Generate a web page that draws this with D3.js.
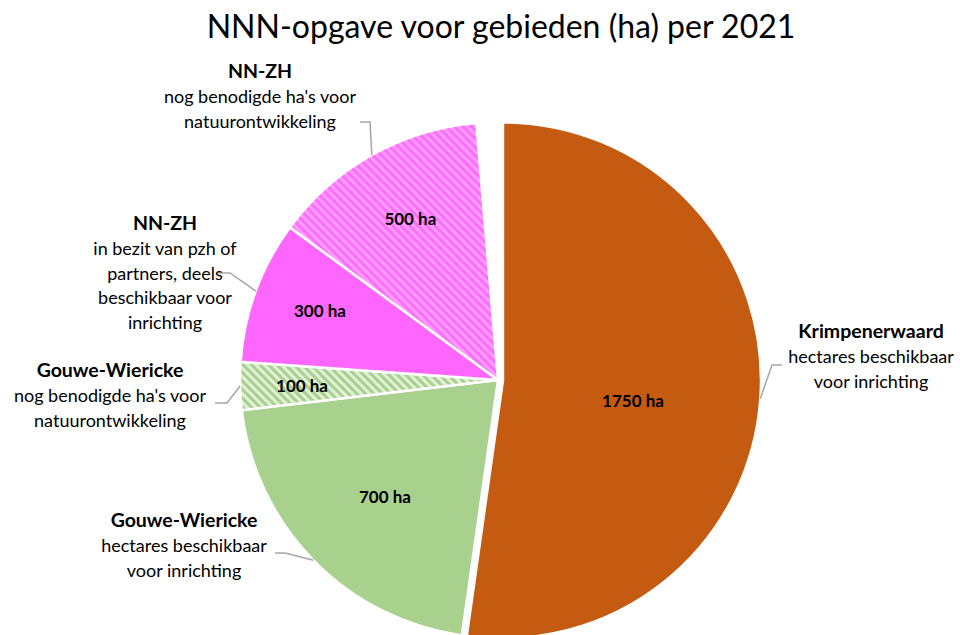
<!DOCTYPE html>
<html>
<head>
<meta charset="utf-8">
<script src="https://cdn.jsdelivr.net/npm/d3@7"></script>
<style>
  body { margin: 0; background: #fff; }
  svg { font-family: Lato, "Open Sans", sans-serif; }
  .title { font-size: 32px; fill: #000; }
  .cat { font-size: 19.5px; font-weight: bold; fill: #000; }
  .desc { font-size: 18px; fill: #000; }
  .val { font-size: 17px; font-weight: bold; fill: #000; }
  .leader { fill: none; stroke: #a6a6a6; stroke-width: 1.5; }
</style>
</head>
<body>
<svg width="960" height="635"></svg>
<script>
const w = 960, h = 635;
const cx = 498, cy = 380, radius = 258;

// slice data (last one is the empty gap at the top of the pie)
const categories = ["Krimpenerwaard", "Gouwe-Wiericke", "Gouwe-Wiericke", "NN-ZH", "NN-ZH", ""];
const descriptions = [
  ["hectares beschikbaar", "voor inrichting"],
  ["hectares beschikbaar", "voor inrichting"],
  ["nog benodigde ha's voor", "natuurontwikkeling"],
  ["in bezit van pzh of", "partners, deels", "beschikbaar voor", "inrichting"],
  ["nog benodigde ha's voor", "natuurontwikkeling"],
  []
];
const values = [1750, 700, 100, 300, 455, 45];
const valueLabels = ["1750 ha", "700 ha", "100 ha", "300 ha", "500 ha", ""];

// layout: label blocks, leader elbows, data label placement (radius fraction, angle shift in deg)
const fills = ["#c55a11", "#a9d18e", "url(#hatchGreen)", "#ff66ff", "url(#hatchPink)", "none"];
const labelPlace = [[0.51, 4.7], [0.63, -1.6], [0.76, -0.5], [0.74, 1], [0.71, 0.7]];
const labelBlocks = [[871, 338], [184, 527], [110, 377], [165, 230], [260, 78]];
const elbows = [[[772, 365], [782, 365]], [[285, 553], [275, 553]], [[227, 403], [215, 403]],
                [[230, 273], [218, 273]], [[370, 122], [360, 122]]];
const explode = [5, 0, 0, 0, 0, 0];

const svg = d3.select("svg");

// hatch patterns (wide downward diagonal)
const defs = svg.append("defs");
function hatch(id, bg, fg) {
  const p = defs.append("pattern").attr("id", id)
      .attr("patternUnits", "userSpaceOnUse")
      .attr("width", 6).attr("height", 6)
      .attr("patternTransform", "rotate(45)");
  p.append("rect").attr("width", 6).attr("height", 6).attr("fill", bg);
  p.append("rect").attr("width", 6).attr("height", 3).attr("fill", fg);
}
hatch("hatchGreen", "#e2f0d9", "#a9d18e");
hatch("hatchPink", "#ff9cff", "#ff6dff");

svg.append("text").attr("class", "title")
    .attr("x", 501).attr("y", 38)
    .attr("text-anchor", "middle")
    .text("NNN-opgave voor gebieden (ha) per 2021");

const pie = d3.pie().sort(null).value(d => d);
const arcs = pie(values);
const arc = d3.arc().innerRadius(0).outerRadius(radius);
const rim = d3.arc().innerRadius(radius).outerRadius(radius);

const g = svg.append("g").attr("transform", `translate(${[cx, cy]})`);

g.selectAll("path.slice")
  .data(arcs)
  .join("path").attr("class", "slice")
  .attr("d", arc)
  .attr("transform", (d, i) => {
    const a = (d.startAngle + d.endAngle) / 2;
    return `translate(${[explode[i] * Math.sin(a), -explode[i] * Math.cos(a)]})`;
  })
  .attr("fill", (d, i) => fills[i])
  .attr("stroke", (d, i) => fills[i] === "none" ? "none" : "#fff")
  .attr("stroke-width", 2.5)
  .attr("stroke-linejoin", "round");

// value labels inside the slices
g.selectAll("text.val")
  .data(arcs.filter((d, i) => valueLabels[i]))
  .join("text").attr("class", "val")
  .attr("text-anchor", "middle")
  .attr("dy", "0.35em")
  .attr("transform", (d, i) => {
    const a = (d.startAngle + d.endAngle) / 2 + labelPlace[i][1] * Math.PI / 180;
    const r = radius * labelPlace[i][0] + explode[i];
    return `translate(${[r * Math.sin(a), -r * Math.cos(a)]})`;
  })
  .text((d, i) => valueLabels[i]);

// leader lines from the rim to the category labels
arcs.slice(0, 5).forEach((d, i) => {
  const c = rim.centroid(d);
  const a = (d.startAngle + d.endAngle) / 2;
  const start = [cx + c[0] + explode[i] * Math.sin(a), cy + c[1] - explode[i] * Math.cos(a)];
  svg.append("path").attr("class", "leader")
    .attr("d", d3.line()([start, ...elbows[i]]));

  const t = svg.append("text")
      .attr("text-anchor", "middle")
      .attr("transform", `translate(${labelBlocks[i]})`);
  t.append("tspan").attr("class", "cat").attr("x", 0).attr("y", 0).text(categories[i]);
  descriptions[i].forEach((line, k) => {
    t.append("tspan").attr("class", "desc").attr("x", 0).attr("y", 25 * (k + 1) - (i === 3 ? k * 0.5 : 0)).text(line);
  });
});
</script>
</body>
</html>
